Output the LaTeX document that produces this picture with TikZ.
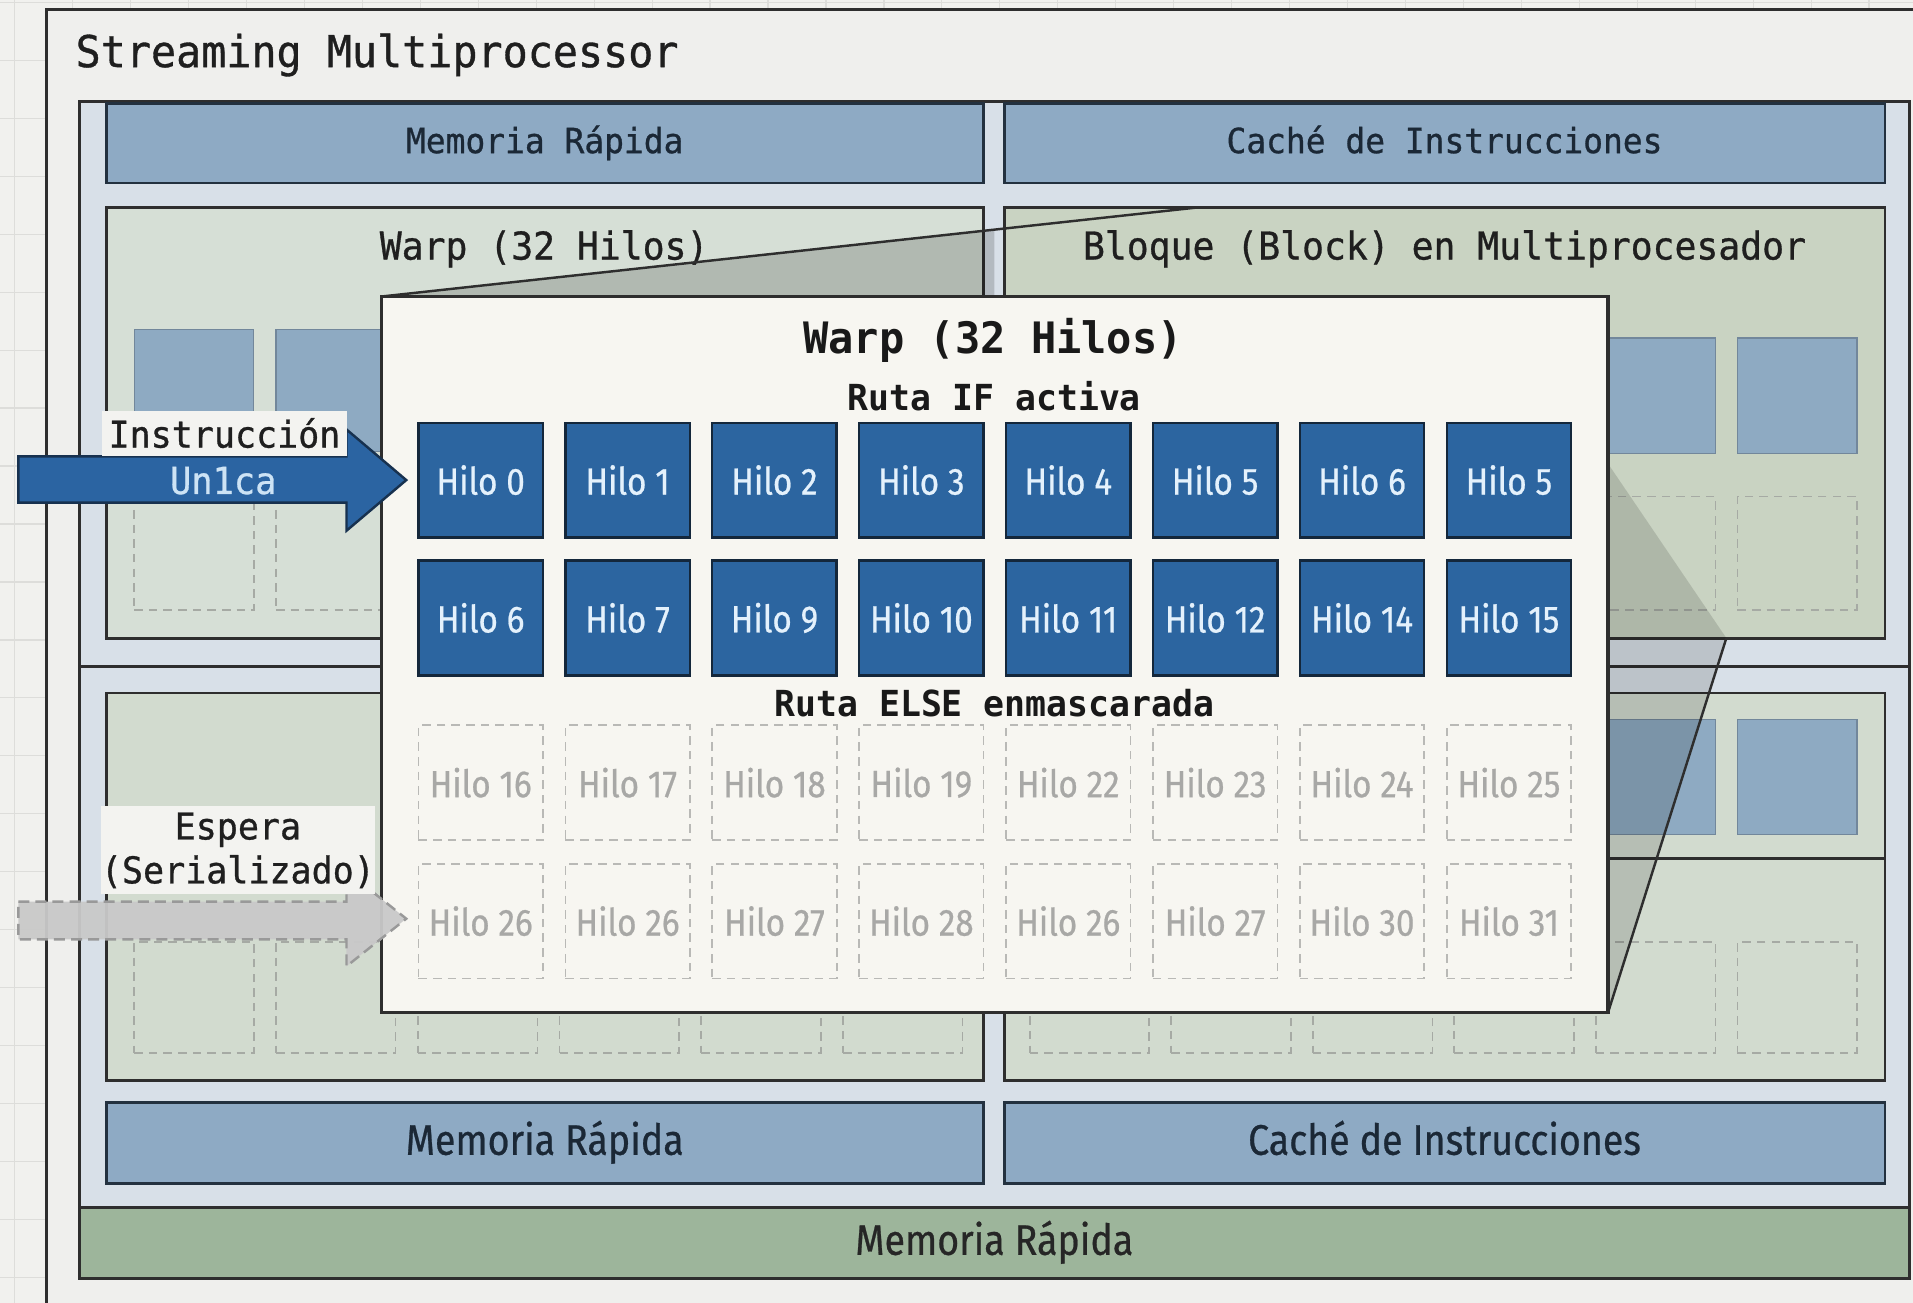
\documentclass[tikz,border=0pt]{standalone}
\usepackage{fontspec}
\usetikzlibrary{calc}
\setmainfont{DejaVu Sans}
\setmonofont{DejaVu Sans Mono}
\newfontfamily\monomed[FakeStretch=0.95,FakeBold=0.8]{DejaVu Sans Mono}
\newfontfamily\monobold[FakeStretch=0.97]{DejaVu Sans Mono Bold}
\newfontfamily\condsans[FakeStretch=0.88,FakeBold=0.6]{Fira Sans}
\definecolor{pagebg}{HTML}{F1F1EE}
\definecolor{gridc}{HTML}{DDDDDA}
\definecolor{smfill}{HTML}{EFEFED}
\definecolor{smdraw}{HTML}{2E2E2E}
\definecolor{framefill}{HTML}{D8E0E8}
\definecolor{barfill}{HTML}{8EAAC4}
\definecolor{bardraw}{HTML}{23313F}
\definecolor{bartext}{HTML}{1B2836}
\definecolor{panelL}{HTML}{D6DFD6}
\definecolor{panelR}{HTML}{C9D3C2}
\definecolor{panelB}{HTML}{D2DBCF}
\definecolor{sqfill}{HTML}{8EAAC2}
\definecolor{sqdraw}{HTML}{72879B}
\definecolor{dsqdraw}{HTML}{A6AAA4}
\definecolor{greenbar}{HTML}{9DB59B}
\definecolor{warpfill}{HTML}{F7F6F1}
\definecolor{hilofill}{HTML}{2C65A0}
\definecolor{hilodraw}{HTML}{14273B}
\definecolor{hilotext}{HTML}{E4F1FC}
\definecolor{dhilodraw}{HTML}{B9B9B6}
\definecolor{dhilotext}{HTML}{A8A8A6}
\definecolor{arrblue}{HTML}{2B64A2}
\definecolor{arrbluedraw}{HTML}{17314F}
\definecolor{arrgray}{HTML}{C9C9C9}
\definecolor{arrgraydraw}{HTML}{999999}
\definecolor{labelbg}{HTML}{F3F3F0}
\definecolor{untext}{HTML}{CDE3F5}
\newcommand\hilofont{\condsans\fontsize{31}{36}\selectfont}
\newcommand\mkbox[7]{%
  \pgfmathsetmacro\mkW{(#4)-(#2)}%
  \pgfmathsetmacro\mkH{(#5)-(#3)}%
  \node[#6, anchor=north west, minimum width=\mkW pt, minimum height=\mkH pt] (#1) at (#2,#3) {#7};}
\begin{document}
\begin{tikzpicture}[x=1pt,y=-1pt,
  every node/.style={inner sep=0pt, outer sep=0pt},
  smbox/.style={draw=smdraw, fill=smfill, line width=2.6pt},
  framebox/.style={draw=smdraw, fill=framefill, line width=2.4pt},
  barbox/.style={draw=bardraw, fill=barfill, line width=2.4pt, text=bartext, font=\monomed\fontsize{28.4}{30}\selectfont, text height=20pt, text depth=4pt},
  lowbar/.style={draw=bardraw, fill=barfill, line width=2.4pt, text=bartext, font=\condsans\fontsize{35}{40}\selectfont, text height=24pt, text depth=5pt},
  greenbox/.style={draw=smdraw, fill=greenbar, line width=2.4pt, text=black!85, font=\condsans\fontsize{35}{40}\selectfont, text height=24pt, text depth=5pt},
  panelbox/.style={draw=smdraw, fill=#1, line width=2.4pt},
  solidsq/.style={fill=sqfill, draw=sqdraw, line width=1pt},
  dashsq/.style={draw=dsqdraw, dash pattern=on 7pt off 5pt, line width=1.3pt},
  ptitle/.style={text=black!88, font=\monomed\fontsize{31.4}{34}\selectfont},
  hiloA/.style={draw=hilodraw, fill=hilofill, line width=2pt, minimum width=102pt, minimum height=94pt, text=hilotext, font=\hilofont},
  hiloB/.style={draw=dhilodraw, dash pattern=on 7pt off 5pt, line width=1.4pt, minimum width=102pt, minimum height=94pt, text=dhilotext, font=\hilofont},
  bluearr/.style={fill=arrblue, draw=arrbluedraw, line width=2pt, line join=miter},
  grayarr/.style={fill=arrgray, fill opacity=0.95, draw=arrgraydraw, line width=2pt, dash pattern=on 9pt off 5pt},
  lblbox/.style={fill=labelbg, text=black!88, font=\monomed\fontsize{30.2}{36}\selectfont, align=center},
  zoomline/.style={draw=smdraw, line width=2pt},
]
\useasboundingbox (0,0) rectangle (1568,1068);
\clip (0,0) rectangle (1568,1068);
\fill[pagebg] (0,0) rectangle (1568,1068);
\foreach \i in {0,...,33} {
  \draw[gridc, line width=1pt] ({12+47.5*\i},0) -- ({12+47.5*\i},1068);
}
\foreach \i in {0,...,23} {
  \draw[gridc, line width=1pt] (0,{2+47.5*\i}) -- (1568,{2+47.5*\i});
}
% Streaming multiprocessor
\mkbox{sm}{38}{8}{1600}{1100}{smbox}{}
\node[anchor=base west, text=black!88, font=\monomed\fontsize{36}{40}\selectfont] (smtitle) at (62,55) {Streaming Multiprocessor};
% frame
\mkbox{frtop}{65}{83}{1565}{546}{framebox}{}
\mkbox{frbot}{65}{546}{1565}{990}{framebox}{}
% bars
\mkbox{memtop}{87}{85}{806}{150}{barbox}{Memoria Rápida}
\mkbox{cachetop}{823}{85}{1545}{150}{barbox}{Caché de Instrucciones}
% panels
\mkbox{ptl}{87}{170}{806}{523}{panelbox=panelL}{}
\mkbox{ptr}{823}{170}{1545}{523}{panelbox=panelR}{}
\mkbox{pbl}{87}{568}{806}{886}{panelbox=panelB}{}
\mkbox{pbr}{823}{568}{1545}{886}{panelbox=panelB}{}
\draw[smdraw, line width=2.4pt] (pbr.west |- 0,704) coordinate (pbrl) -- (pbr.east |- 0,704) coordinate (pbrr);
\node[ptitle] (ptltitle) at (446,204) {Warp (32 Hilos)};
\node[ptitle] (ptrtitle) at (1184,204) {Bloque (Block) en Multiprocesador};
% small squares
\foreach \i in {0,...,5} {
  \pgfmathsetmacro\xa{110+116.2*\i}
  \pgfmathsetmacro\xb{\xa+98}
  \mkbox{tla\i}{\xa}{270}{\xb}{370}{solidsq}{}
  \mkbox{tlb\i}{\xa}{407}{\xb}{500}{dashsq}{}
  \mkbox{bld\i}{\xa}{772}{\xb}{863}{dashsq}{}
  \pgfmathsetmacro\xc{844+116*\i}
  \pgfmathsetmacro\xd{\xc+98}
  \mkbox{tra\i}{\xc}{277}{\xd}{372}{solidsq}{}
  \mkbox{trb\i}{\xc}{407}{\xd}{500}{dashsq}{}
  \mkbox{brc\i}{\xc}{590}{\xd}{684}{solidsq}{}
  \mkbox{brd\i}{\xc}{772}{\xd}{863}{dashsq}{}
}
% lower bars
\mkbox{membot}{87}{904}{806}{970}{lowbar}{Memoria Rápida}
\mkbox{cachebot}{823}{904}{1545}{970}{lowbar}{Caché de Instrucciones}
\mkbox{memgreen}{65}{990}{1565}{1048}{greenbox}{Memoria Rápida}
% zoom projection
\coordinate (srcA) at (982,170);
\coordinate (srcB) at (1415,523);
\begin{scope}
\clip (0,0) rectangle (815,1068);
\fill[black, opacity=0.17] (313,243) -- (srcA) -- (1318,243) -- cycle;
\end{scope}
\fill[black, opacity=0.13] (1318,380) -- (srcB) -- (1318,830) -- cycle;
% warp box
\mkbox{warp}{313}{243}{1318}{830}{draw=smdraw, fill=warpfill, line width=2.6pt}{}
\draw[zoomline] (warp.north west) -- (srcA);
\draw[zoomline] (warp.south east) -- (srcB);
\node[text=black!90, font=\monobold\fontsize{35.5}{40}\selectfont] (wtitle) at (814,279) {Warp (32 Hilos)};
\node[text=black!90, font=\monobold\fontsize{29.4}{34}\selectfont] (rif) at (815,325) {Ruta IF activa};
\node[text=black!90, font=\monobold\fontsize{29.4}{34}\selectfont] (relse) at (815,576) {Ruta ELSE enmascarada};
\foreach \lab [count=\i from 0] in {0,1,2,3,4,5,6,5} {
  \node[hiloA] (ha\i) at ({394+120.4*\i},393.5) {Hilo \lab};
}
\foreach \lab [count=\i from 0] in {6,7,9,10,11,12,14,15} {
  \node[hiloA] (hb\i) at ({394+120.4*\i},506.5) {Hilo \lab};
}
\foreach \lab [count=\i from 0] in {16,17,18,19,22,23,24,25} {
  \node[hiloB] (hc\i) at ({394+120.4*\i},641.5) {Hilo \lab};
}
\foreach \lab [count=\i from 0] in {26,26,27,28,26,27,30,31} {
  \node[hiloB] (hd\i) at ({394+120.4*\i},755) {Hilo \lab};
}
% instruction arrow
\coordinate (tipA) at ($(ha0.west)+(-10,0)$);
\draw[bluearr] (15,374) -- (284,374) -- (284,352) -- (tipA) -- (284,435) -- (284,412) -- (15,412) -- cycle;
\node[lblbox, minimum width=201pt, minimum height=37pt] (instr) at (184,355) {Instrucción};
\node[text=untext, font=\monomed\fontsize{30.5}{34}\selectfont] (unica) at (183,394) {Un1ca};
% wait arrow
\coordinate (tipB) at ($(hd0.west)+(-10,-2)$);
\draw[grayarr] (15,739) -- (284,739) -- (284,714) -- (tipB) -- (284,792) -- (284,770) -- (15,770) -- cycle;
\node[lblbox, minimum width=220pt, minimum height=72pt] (espera) at (195,697) {Espera\\(Serializado)};
\end{tikzpicture}
\end{document}
